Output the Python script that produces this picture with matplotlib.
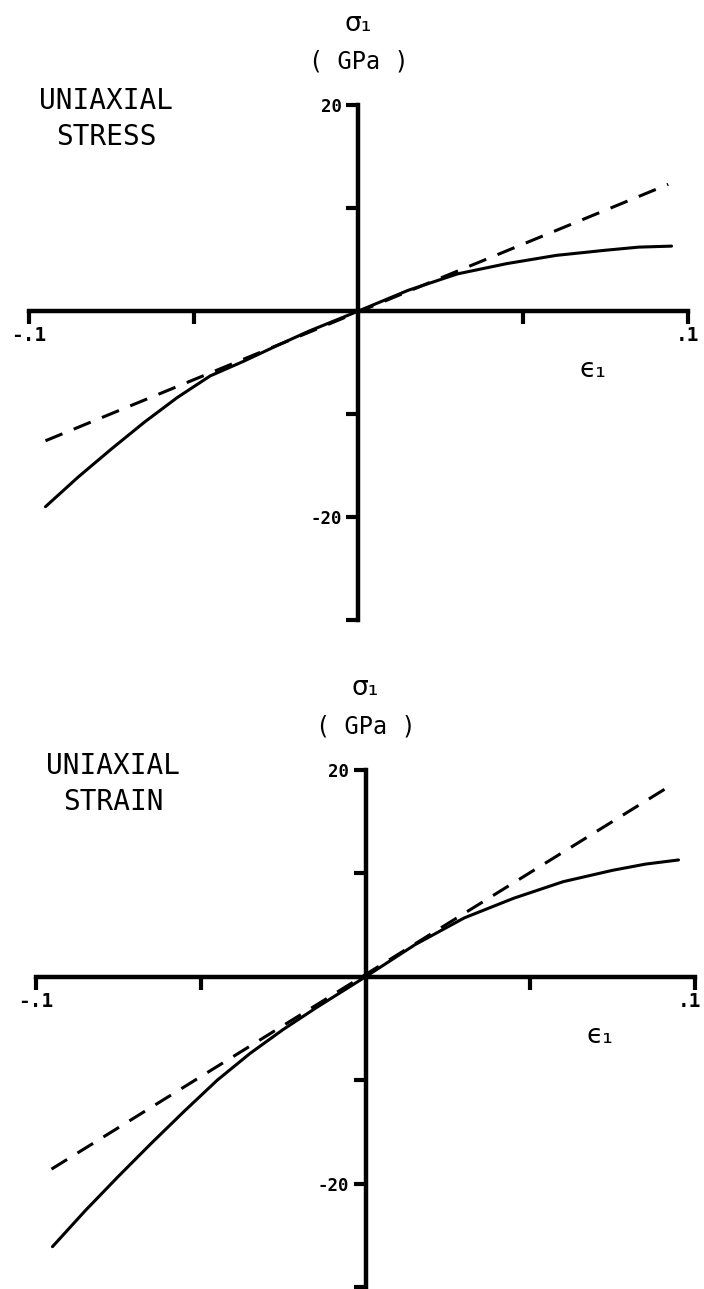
import matplotlib
matplotlib.use("Agg")
import matplotlib.pyplot as plt
from matplotlib.transforms import ScaledTranslation

# -------- DATA ------------------------------------------------------
strain_pts = [-0.095, -0.085, -0.075, -0.065, -0.055, -0.045, -0.035, -0.025,
              -0.015, 0.0, 0.015, 0.03, 0.045, 0.06, 0.075, 0.085, 0.095]

# uniaxial stress: nonlinear response and linear (dashed) reference
stress_solid = [-19.0, -16.1, -13.4, -10.8, -8.4, -6.3, -4.9, -3.4,
                -1.95, 0.0, 2.0, 3.6, 4.6, 5.4, 5.9, 6.2, 6.3]
stress_lin_x = [-0.095, 0.094]
stress_lin_y = [-12.6, 12.3]

# uniaxial strain
strain_solid = [-26.1, -22.6, -19.3, -16.1, -13.0, -10.0, -7.4, -5.1,
                -3.0, 0.0, 3.1, 5.7, 7.6, 9.2, 10.3, 10.9, 11.3]
strain_lin_x = [-0.0953, 0.0926]
strain_lin_y = [-18.6, 18.5]

x_ticks = [-0.1, -0.05, 0.05, 0.1]
x_ticklabels = ["-.1", "", "", ".1"]
y_ticks = [20, 10, -10, -20, -30]
y_ticklabels = ["20", "", "", "-20", ""]
# --------------------------------------------------------------------

W, H = 704, 1289
fig = plt.figure(figsize=(W / 100, H / 100), dpi=100)

MONO = "DejaVu Sans Mono"

panels = [
    # (left px, right px, top px (y=20), bottom px (y=-30), title, solid, dashed x, dashed y)
    (29, 688, 105, 620, ["UNIAXIAL", "STRESS"], stress_solid, stress_lin_x, stress_lin_y),
    (36, 695, 770, 1287, ["UNIAXIAL", "STRAIN"], strain_solid, strain_lin_x, strain_lin_y),
]

for left, right, top, bot, title, solid, lx, ly in panels:
    ax = fig.add_axes([left / W, 1 - bot / H, (right - left) / W, (bot - top) / H])
    ax.set_xlim(-0.1, 0.1)
    ax.set_ylim(-30, 20)

    ax.plot(strain_pts, solid, color="black", lw=2.2, solid_capstyle="round", clip_on=False)
    ax.plot(lx, ly, color="black", lw=2.2, linestyle=(0, (6, 4)), clip_on=False)

    # axes crossing at the origin
    ax.spines["left"].set_position(("data", 0))
    ax.spines["bottom"].set_position(("data", 0))
    ax.spines["top"].set_visible(False)
    ax.spines["right"].set_visible(False)
    for s in ("left", "bottom"):
        ax.spines[s].set_linewidth(3.2)
        ax.spines[s].set_capstyle("projecting")

    ax.set_xticks(x_ticks)
    ax.set_xticklabels(x_ticklabels, fontfamily=MONO, fontweight="bold", fontsize=14)
    ax.set_yticks(y_ticks)
    ax.set_yticklabels(y_ticklabels, fontfamily=MONO, fontweight="bold", fontsize=12.5)
    ax.tick_params(axis="x", direction="out", length=9, width=3, pad=2)
    ax.tick_params(axis="y", direction="out", length=9, width=3, pad=3)
    ax.patch.set_alpha(0)

    # keep the ".1" label inside the page edge
    if right > W - 12:
        lbl = ax.get_xticklabels()[-1]
        lbl.set_transform(lbl.get_transform() + ScaledTranslation(-5 / 100, 0, fig.dpi_scale_trans))

    # axis labels
    ax.text(0.0, 27.9, "σ₁", ha="center", va="center", fontsize=19, fontfamily="DejaVu Sans")
    ax.text(0.0, 24.2, "( GPa )", ha="center", va="center", fontsize=17, fontfamily=MONO)
    ax.text(0.071, -5.7, "ϵ₁", ha="center", va="center", fontsize=19, fontfamily="DejaVu Sans")

    # panel title
    ax.text(-0.0766, 20.4, title[0], ha="center", va="center", fontsize=20, fontfamily=MONO)
    ax.text(-0.0766, 16.9, title[1], ha="center", va="center", fontsize=20, fontfamily=MONO)

fig.savefig("out.png", dpi=100, facecolor="white")
